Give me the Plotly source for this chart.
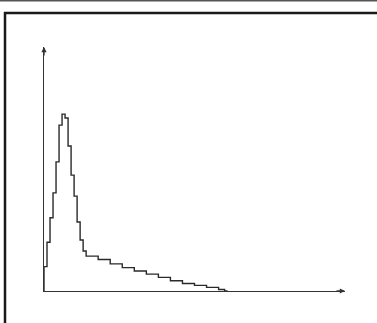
import plotly.graph_objects as go

# histogram-like step curve, bin width 1 unit (axis runs 0..100)
bin_width = 1.0
counts = [10.0, 20.0, 30.0, 40.2, 52.9, 68.0, 72.5, 70.9, 59.4, 47.5,
          38.9, 28.3, 20.9, 16.4,
          14.3, 14.3, 14.3, 14.3,
          12.9, 12.9, 12.9, 12.9,
          11.1, 11.1, 11.1, 11.1,
          9.6, 9.6, 9.6, 9.6,
          8.2, 8.2, 8.2, 8.2,
          6.9, 6.9, 6.9, 6.9,
          5.6, 5.6, 5.6, 5.6,
          4.2, 4.2, 4.2, 4.2,
          3.1, 3.1, 3.1, 3.1,
          2.3, 2.3, 2.3, 2.3,
          1.5, 1.5, 1.5, 1.5,
          0.6, 0.6, 0]

xs = [i * bin_width for i in range(len(counts))]
# close last step
xs_step = xs + [xs[-1] + bin_width]
ys_step = counts + [counts[-1]]

W, H = 377, 323
L, R, T, B = 44, 32, 47, 32
pw, ph = W - L - R, H - T - B


def px(p):
    return (p - L) / pw


def py(q):
    return (H - B - q) / ph


fig = go.Figure()
fig.add_trace(go.Scatter(
    x=[0] + xs_step, y=[0] + ys_step,
    mode='lines', line=dict(color='#2a2a2a', width=1.4, shape='hv'),
    showlegend=False, hoverinfo='skip'
))

shapes = [
    # top strip of the scan
    dict(type='line', xref='paper', yref='paper', x0=px(0), x1=px(W), y0=py(0.5), y1=py(0.5),
         line=dict(color='#555555', width=2)),
    # frame top
    dict(type='line', xref='paper', yref='paper', x0=px(4), x1=px(W), y0=py(13), y1=py(13),
         line=dict(color='#1a1a1a', width=2.5)),
    # frame left
    dict(type='line', xref='paper', yref='paper', x0=px(5), x1=px(5), y0=py(12), y1=py(H),
         line=dict(color='#1a1a1a', width=2.5)),
]

annotations = [
    dict(x=100, y=0, xref='x', yref='y', ax=-10, ay=0, showarrow=True, arrowhead=2,
         arrowsize=0.8, arrowwidth=1.3, arrowcolor='#333333', text=''),
    dict(x=0, y=100, xref='x', yref='y', ax=0, ay=10, showarrow=True, arrowhead=2,
         arrowsize=0.8, arrowwidth=1.3, arrowcolor='#333333', text=''),
]

fig.update_layout(
    width=W, height=H,
    margin=dict(l=L, r=R, t=T, b=B),
    paper_bgcolor='white', plot_bgcolor='white',
    shapes=shapes, annotations=annotations,
    xaxis=dict(range=[0, 100], showgrid=False, zeroline=False, showticklabels=False,
               ticks='', showline=True, linecolor='#333333', linewidth=1.4),
    yaxis=dict(range=[0, 100], showgrid=False, zeroline=False, showticklabels=False,
               ticks='', showline=True, linecolor='#333333', linewidth=1.4),
)

# page body has a default margin, remove it so the figure fills the window
fig.write_html("out.html", config={'displayModeBar': False},
               post_script="document.body.style.margin='0';")
